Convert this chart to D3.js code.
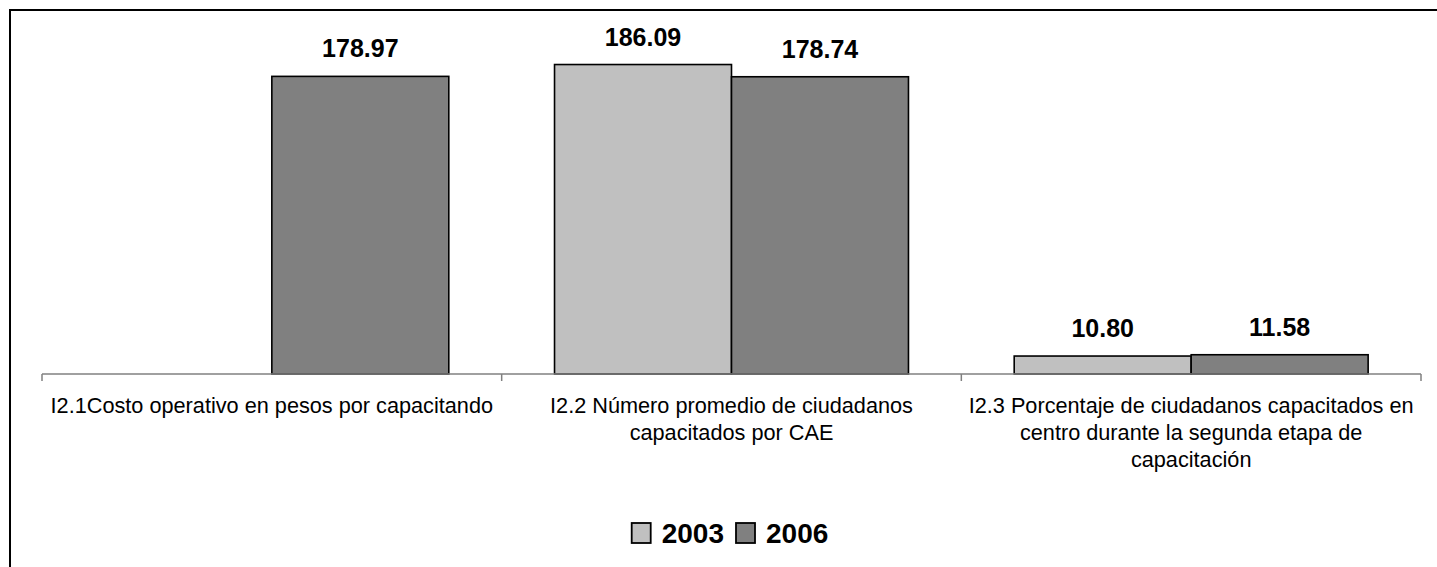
<!DOCTYPE html>
<html>
<head>
<meta charset="utf-8">
<script src="https://cdn.jsdelivr.net/npm/d3@7"></script>
<style>
  html, body { margin: 0; padding: 0; background: #fff; }
  svg { display: block; }
  text { font-family: "Liberation Sans", Arial, sans-serif; }
</style>
</head>
<body>
<svg id="chart" width="1437" height="567"></svg>
<script>
// ---- data ----
const categories = [
  "I2.1Costo operativo en pesos por capacitando",
  "I2.2 Número promedio de ciudadanos capacitados por CAE",
  "I2.3 Porcentaje de ciudadanos capacitados en centro durante la segunda etapa de capacitación"
];
const categoryLines = [
  ["I2.1Costo operativo en pesos por capacitando"],
  ["I2.2 Número promedio de ciudadanos", "capacitados por CAE"],
  ["I2.3 Porcentaje de ciudadanos capacitados en", "centro durante la segunda etapa de", "capacitación"]
];
const seriesNames = ["2003", "2006"];
const values2003 = [null, 186.09, 10.80];
const values2006 = [178.97, 178.74, 11.58];
const seriesColors = ["#C0C0C0", "#808080"];

// ---- layout ----
const svg = d3.select("#chart");
const axisY = 374, left = 42, right = 1421;

svg.append("rect")
  .attr("x", 10).attr("y", 10)
  .attr("width", 1450).attr("height", 580)
  .attr("fill", "#fff").attr("stroke", "#000").attr("stroke-width", 2);

const x0 = d3.scaleBand().domain(categories).range([left, right])
  .paddingInner(0.23).paddingOuter(0.115);
const x1 = d3.scaleBand().domain(seriesNames).range([0, x0.bandwidth()]).padding(0);
const y = d3.scaleLinear().domain([0, 200]).range([axisY, axisY - 332.6]);

const allSeries = [values2003, values2006];
const barData = [];
categories.forEach((c, i) => {
  seriesNames.forEach((s, j) => {
    const v = allSeries[j][i];
    if (v !== null) barData.push({ cat: c, series: s, value: v, color: seriesColors[j] });
  });
});

// bars
svg.append("g").selectAll("rect").data(barData).join("rect")
  .attr("x", d => x0(d.cat) + x1(d.series))
  .attr("y", d => y(d.value))
  .attr("width", x1.bandwidth())
  .attr("height", d => y(0) - y(d.value))
  .attr("fill", d => d.color)
  .attr("stroke", "#000").attr("stroke-width", 1.6);

// axis
const stepScale = d3.scalePoint().domain(d3.range(categories.length + 1)).range([left, right]);
const gAxis = svg.append("g");
gAxis.append("line")
  .attr("x1", left).attr("x2", right).attr("y1", axisY).attr("y2", axisY)
  .attr("stroke", "#808080").attr("stroke-width", 1.5);
gAxis.selectAll("line.tick").data(stepScale.domain()).join("line")
  .attr("class", "tick")
  .attr("x1", d => stepScale(d)).attr("x2", d => stepScale(d))
  .attr("y1", axisY).attr("y2", axisY + 7)
  .attr("stroke", "#808080").attr("stroke-width", 1.5);

// value labels
svg.append("g").selectAll("text").data(barData).join("text")
  .attr("x", d => x0(d.cat) + x1(d.series) + x1.bandwidth() / 2)
  .attr("y", d => y(d.value) - 19)
  .attr("text-anchor", "middle")
  .attr("font-size", 25).attr("font-weight", "bold").attr("fill", "#000")
  .text(d => d.value.toFixed(2));

// category labels
const catG = svg.append("g");
categories.forEach((c, i) => {
  const cx = (stepScale(i) + stepScale(i + 1)) / 2;
  const t = catG.append("text")
    .attr("text-anchor", "middle")
    .attr("font-size", 21.7).attr("fill", "#000");
  categoryLines[i].forEach((ln, k) => {
    t.append("tspan").attr("x", cx).attr("y", 413 + k * 27).text(ln);
  });
});

// legend
const legG = svg.append("g");
let cursor = 0;
const items = [];
seriesNames.forEach((s, j) => {
  const sq = legG.append("rect")
    .attr("width", 19).attr("height", 20)
    .attr("fill", seriesColors[j]).attr("stroke", "#000").attr("stroke-width", 1.8);
  const tx = legG.append("text")
    .attr("font-size", 28).attr("font-weight", "bold").attr("fill", "#000")
    .text(s);
  const w = tx.node().getComputedTextLength();
  items.push({ sq, tx, start: cursor, w });
  cursor += 19 + 11 + w + 12;
});
const totalW = cursor - 12;
const legStart = 730 - totalW / 2;
items.forEach(it => {
  it.sq.attr("x", legStart + it.start).attr("y", 523);
  it.tx.attr("x", legStart + it.start + 30).attr("y", 543);
});
</script>
</body>
</html>
